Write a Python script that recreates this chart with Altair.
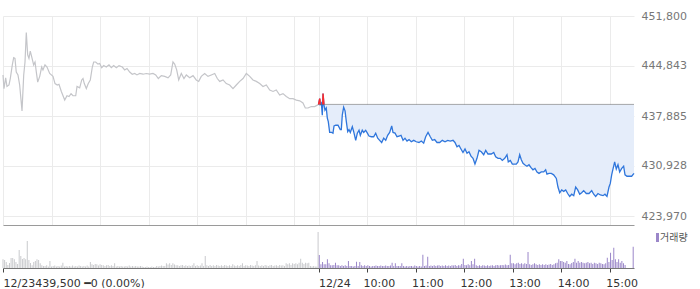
import altair as alt
import pandas as pd

# ---------------- data ----------------
PREV_CLOSE = 439500

# previous day (12/23) price line : minute index (0 = 12/23 09:00) and price
prev_minute = [
    0, 1.2, 3.3, 4.9, 7.4, 9.0, 11.5, 13.2, 14.8, 16.4,
    18.5, 20.6, 23.5, 25.6, 27.2, 28.8, 30.5, 32.1, 33.7, 35.5,
    37.9, 39.6, 41.2, 42.9, 45.4, 47.8, 49.4, 51.9, 54.4, 57.7,
    61.8, 64.3, 67.1, 69.2, 72.1, 76.3, 79.1, 81.6, 84.1, 86.5,
    89.9, 91.5, 94.8, 97.3, 98.9, 100.5, 103.0, 105.4, 107.9, 110.4,
    112.1, 114.6, 117.4, 119.5, 122.0, 124.5, 127.7, 131.0, 133.9, 136.8,
    140.1, 143.4, 147.5, 150.4, 153.3, 156.6, 159.8, 162.8, 165.6, 169.0,
    173.1, 177.1, 181.3, 185.4, 188.8, 192.0, 195.7, 199.9, 204.0, 207.3,
    210.1, 212.2, 214.7, 217.2, 220.4, 223.7, 226.6, 230.8, 234.9, 238.9,
    241.9, 245.1, 249.3, 253.4, 257.5, 261.7, 264.9, 267.9, 272.0, 276.0,
    280.2, 284.3, 288.4, 292.6, 296.7, 300.8, 305.0, 309.0, 313.1, 317.3,
    321.4, 325.5, 329.7, 333.8, 337.8, 342.0, 346.1, 350.2, 354.4, 358.5,
    362.6, 366.8, 370.8, 373.7, 377.0, 381.1, 385.3, 388.5, 390,
]
prev_price = [
    443600, 441700, 443200, 442000, 442200, 443100, 445000, 446000, 445900, 444000,
    443600, 442200, 438600, 443600, 445400, 449500, 446400, 445900, 446900, 446100,
    445000, 445400, 444000, 442600, 443400, 444700, 444300, 445000, 444700, 443800,
    443400, 442400, 442200, 442300, 441300, 440100, 440700, 440600, 441000, 440700,
    440700, 442000, 441800, 442900, 443100, 442400, 441700, 442400, 442900, 444700,
    445400, 445400, 445100, 445200, 444600, 444900, 444700, 445000, 444600, 444900,
    444600, 444900, 444700, 444300, 444500, 444000, 443700, 443800, 443600, 443800,
    443700, 443800, 443700, 443800, 443600, 443100, 443500, 443400, 443200, 443600,
    445400, 445100, 444300, 442900, 443800, 443100, 443600, 443200, 443500, 442900,
    442700, 443400, 443800, 443400, 443600, 443800, 443100, 442700, 442900, 442400,
    442200, 441700, 442200, 442700, 443100, 443800, 443400, 442900, 442700, 442400,
    442000, 442200, 441500, 441300, 441500, 440800, 441000, 440600, 440300, 440300,
    440100, 440000, 439700, 439000, 439000, 439200, 439200, 439400, 439500,
]

# today (12/24) price line : minute index (390 = 12/24 09:00)
today_minute = [
    390, 391.5, 392.2, 393.5, 394.7, 395.6, 396.8, 398.0, 399.6, 400.9,
    402.1, 403.8, 406.3, 407.9, 409.2, 411.3, 414.1, 416.9, 418.2, 419.4,
    421.1, 422.8, 424.4, 426.1, 427.7, 429.3, 431.8, 433.5, 436.0, 438.0,
    440.1, 441.7, 444.1, 445.9, 448.3, 449.9, 452.4, 455.3, 458.2, 460.7,
    463.2, 465.6, 468.1, 470.6, 473.1, 475.5, 478.0, 480.5, 482.1, 484.6,
    487.0, 489.5, 492.0, 494.5, 496.9, 499.4, 501.9, 504.7, 507.7, 510.9,
    514.2, 517.1, 520.0, 522.5, 525.4, 528.2, 530.7, 533.6, 536.5, 539.8,
    543.0, 546.4, 549.7, 552.9, 556.3, 558.7, 561.2, 563.7, 566.1, 568.6,
    571.1, 573.6, 576.0, 578.5, 581.0, 583.4, 585.9, 588.4, 591.2, 594.2,
    596.7, 599.5, 603.6, 606.6, 609.0, 611.9, 614.7, 617.2, 620.2, 623.0,
    624.6, 627.1, 629.6, 632.0, 634.5, 636.6, 638.7, 640.7, 642.8, 644.9,
    647.7, 650.2, 652.7, 655.1, 657.6, 660.1, 662.6, 665.4, 668.4, 670.8,
    672.4, 674.9, 677.8, 680.7, 684.0, 686.0, 688.2, 690.6, 693.1, 695.6,
    698.0, 700.5, 703.0, 705.5, 707.9, 710.4, 712.9, 715.3, 717.8, 721.0,
    724.4, 727.7, 730.2, 732.6, 735.5, 738.4, 741.7, 744.1, 746.6, 749.1,
    750.7, 752.4, 754.0, 756.1, 758.1, 760.2, 762.3, 764.8, 767.2, 768.9,
    771.3, 774.7, 777.1, 780,
]
today_price = [
    439500, 440300, 439500, 439700, 438000, 441000, 439400, 438700, 439000, 437600,
    437100, 435600, 435600, 435500, 436500, 436600, 436600, 436000, 436000, 438000,
    439100, 438600, 437100, 435700, 436000, 435600, 436400, 435700, 434500, 435500,
    435900, 435200, 435900, 435600, 435900, 435600, 435100, 435000, 435000, 435500,
    434800, 434500, 434200, 434800, 434500, 435200, 435600, 436500, 435600, 435500,
    435000, 435100, 435200, 434500, 434800, 434400, 434600, 434300, 434500, 434300,
    434200, 434400, 434100, 435000, 435600, 435000, 434500, 434600, 434200, 434200,
    434500, 434300, 434500, 434400, 434500, 434200, 433600, 433800, 433300, 432800,
    433300, 432700, 432900, 432300, 432000, 431200, 432000, 433100, 432900, 432500,
    433100, 432600, 432600, 432800, 432200, 432000, 432000, 431700, 432000, 432500,
    431500, 431700, 431200, 431200, 431200, 431500, 432500, 431800, 431300, 431100,
    430900, 431100, 430700, 430400, 430600, 430100, 429900, 430100, 430100, 430400,
    429800, 429900, 429900, 429700, 429200, 428000, 427200, 427600, 427400, 427600,
    427100, 426700, 427000, 426800, 428000, 427600, 427000, 427200, 427500, 427100,
    427100, 427500, 427000, 426700, 427100, 426900, 426800, 427000, 426700, 428000,
    428500, 429700, 430500, 431500, 430500, 431100, 430100, 430600, 430900, 429700,
    429500, 429500, 429500, 429900,
]

# parts of today's line above the previous close (drawn red)
red_seg = ["a", "a", "a", "b", "b", "b"]
red_minute = [390, 391.5, 392.2, 395.2, 395.6, 396.7]
red_price = [439500, 440300, 439500, 439500, 441000, 439500]

# volume (x1000 shares), 2-minute buckets
prev_vol_minute = list(range(0, 390, 2))
prev_vol = [
    8.7, 8, 6, 3, 5, 10, 10, 8.7, 6, 4,
    18, 12, 9, 10, 8.7, 27, 8, 5, 2.7, 6,
    7, 8.7, 8, 4.7, 2.7, 2, 2, 2.7, 1.5, 7,
    1.5, 2, 2.5, 1.5, 2, 1.5, 2.5, 5.3, 1.5, 2,
    1.5, 2, 1.5, 2.5, 1.5, 2, 1.5, 2.5, 2, 1.5,
    2, 1.5, 2.5, 1.5, 6, 3.7, 3, 4, 3.7, 2.5,
    3.7, 3, 2.7, 2, 2.7, 3, 2, 2.7, 2, 4.7,
    1.5, 2, 1.5, 2, 1.5, 1.5, 2, 1.5, 2.5, 1.5,
    2, 1.5, 2, 1.5, 1.5, 2, 1.5, 1, 1, 1.5,
    1, 1, 1.5, 1, 1, 2, 1.5, 2, 2.5, 2,
    2, 4.7, 3.5, 4.7, 3, 4.7, 3.5, 2.7, 2.7, 2,
    2.7, 3, 2, 2.7, 2, 2.5, 2, 2.7, 4.7, 2,
    2.7, 2, 2.5, 4.7, 2, 12, 2.7, 2, 3, 2,
    2.7, 2, 3, 2.5, 2, 2.7, 2, 3, 2.5, 2,
    2.7, 2, 3.7, 2.5, 2, 2.7, 2, 3, 4.7, 2,
    2.7, 2.5, 2, 3, 2.5, 2, 2.7, 7, 2.5, 2,
    2.7, 2, 3, 2.5, 2, 2.7, 3, 2, 2.5, 2.7,
    2, 3, 2.5, 2.7, 2, 4.7, 3.7, 4.7, 3, 4.7,
    4, 4.7, 3.7, 5.3, 9.3, 5.3, 4, 5.3, 4.7, 5.3,
    2, 1.5, 2, 1.5, 1.5,
]
prev_close_auction = (389.5, 36)

today_vol_minute = list(range(391, 771, 2))
today_vol = [
    13, 3.7, 6, 3.7, 3.7, 8.7, 4.7, 2.7, 2.7, 3,
    5.3, 2.7, 2.7, 2, 2.7, 2, 2.7, 2, 7, 2,
    2, 1.5, 2, 6.3, 2, 6, 2.7, 2, 2.7, 2,
    2.7, 2, 1.5, 2, 2, 2.5, 2, 2, 2.5, 2,
    2, 2.5, 2, 2, 2.5, 5.3, 2, 4.7, 2, 2,
    2, 4.7, 2, 1.5, 2, 1.5, 2, 2, 1.5, 2.5,
    2, 1.5, 2, 1.5, 13.3, 2, 2.5, 11.3, 2, 2.5,
    2, 2.7, 2, 2.5, 2.7, 2, 2.5, 2, 2.7, 2,
    2.5, 2, 2.7, 2.5, 3, 2, 2.7, 2.5, 4, 9.3,
    3, 2.7, 3.7, 2.7, 7, 3.7, 9.3, 2.7, 2, 2.7,
    2, 2.7, 2.5, 2, 2.7, 2, 2.5, 2.7, 2, 2.7,
    3, 2.5, 2.7, 3, 2.7, 3.5, 2.7, 3, 13.3, 4.7,
    4.7, 3.7, 4.7, 5.3, 4, 4.7, 3.7, 4.7, 4, 16,
    3.7, 3, 3.7, 4.7, 3.7, 3, 3.7, 3, 3.7, 3,
    3.7, 3, 3.5, 4, 3, 3.7, 4.7, 5.3, 8.7, 7,
    7, 6, 5.3, 7, 4, 3.7, 5, 6, 9.3, 5.3,
    7, 5.3, 6, 5.3, 4.7, 5.3, 6, 4.7, 5.3, 4,
    5.3, 4.7, 4, 5.3, 4.7, 4, 3.7, 4.7, 10.3, 6,
    15.3, 8, 20.3, 8.7, 6, 8.7, 5.3, 7, 4.7, 3,
]
today_close_auction = (779, 21.3)

days = ["12/23", "12/24"]

# axis ticks
grid_minutes = [0, 60, 120, 180, 240, 300, 360, 390, 450, 510, 570, 630, 690, 750]
price_ticks = [423970, 430928, 437885, 444843, 451800]
x_tick_values = [0, 390, 450, 510, 570, 630, 690, 750]
x_tick_labels = ["12/23439,500 ━0 (0.00%)", "12/24", "10:00", "11:00", "12:00",
                 "13:00", "14:00", "15:00"]
legend_label = "거래량"

# ---------------- frames ----------------
prev_df = pd.DataFrame({"minute": prev_minute, "price": prev_price})
today_df = pd.DataFrame({"minute": today_minute, "price": today_price})
today_df["close"] = PREV_CLOSE
red_df = pd.DataFrame({"seg": red_seg, "minute": red_minute, "price": red_price})
close_df = pd.DataFrame({"start": [390], "end": [780], "close": [PREV_CLOSE]})

vol_df = pd.concat([
    pd.DataFrame({"minute": prev_vol_minute + [prev_close_auction[0]],
                  "vol": prev_vol + [prev_close_auction[1]], "day": days[0]}),
    pd.DataFrame({"minute": today_vol_minute + [today_close_auction[0]],
                  "vol": today_vol + [today_close_auction[1]], "day": days[1]}),
], ignore_index=True)

# ---------------- chart ----------------
GRID = "#ebebeb"
x_scale = alt.Scale(domain=[0, 780], nice=False, zero=False, padding=0)

x_top = alt.X("minute:Q", scale=x_scale,
              axis=alt.Axis(values=grid_minutes, labels=False, ticks=False,
                            domain=True, domainColor="#9a9a9a", grid=True,
                            gridColor=GRID, title=None))
y_top = alt.Y("price:Q",
              scale=alt.Scale(domain=[422718, 451800], nice=False, zero=False),
              axis=alt.Axis(orient="right", values=price_ticks, format=",d",
                            labelColor="#777777", labelFont="DejaVu Sans",
                            labelFontSize=11, labelPadding=7, ticks=False,
                            domain=False, grid=True, gridColor=GRID, title=None))

area = alt.Chart(today_df).mark_area(color="#e5edfa", opacity=1).encode(
    x=x_top, y=y_top, y2="close:Q")
prev_line = alt.Chart(prev_df).mark_line(color="#c4c5c9", strokeWidth=1.2).encode(
    x="minute:Q", y="price:Q")
today_line = alt.Chart(today_df).mark_line(color="#2f76dc", strokeWidth=1.3).encode(
    x="minute:Q", y="price:Q")
red_line = alt.Chart(red_df).mark_line(color="#ff2a2a", strokeWidth=1.4).encode(
    x="minute:Q", y="price:Q", detail="seg:N")
close_rule = alt.Chart(close_df).mark_rule(color="#555555", strokeDash=[1, 1],
                                           strokeWidth=1).encode(
    x="start:Q", x2="end:Q", y="close:Q")

top = alt.layer(area, prev_line, today_line, close_rule, red_line).properties(
    width=631, height=209)

label_expr = ""
for v, l in zip(x_tick_values, x_tick_labels):
    label_expr += f"datum.value == {v} ? '{l}' : "
label_expr += "''"

bars = alt.Chart(vol_df).mark_bar(size=1).encode(
    x=alt.X("minute:Q", scale=x_scale,
            axis=alt.Axis(values=x_tick_values, labelExpr=label_expr,
                          labelAlign="left",
                          labelOffset={"condition": {"test": "datum.value <= 390",
                                                     "value": 0},
                                       "value": -4},
                          labelFlush=False, labelOverlap=False,
                          labelFont="DejaVu Sans", labelFontSize=11,
                          labelColor="#333333", labelPadding=5,
                          tickSize=4, tickColor="#444444", domainColor="#777777",
                          grid=False, title=None)),
    y=alt.Y("vol:Q", scale=alt.Scale(domain=[0, 43], nice=False), axis=None),
    color=alt.Color("day:N", scale=alt.Scale(domain=days,
                                             range=["#c9cacd", "#9b87c9"]),
                    legend=None),
)

swatch = alt.Chart(pd.DataFrame({"label": [legend_label]})).mark_rect(
    color="#9b87c9").encode(x=alt.value(653), x2=alt.value(656),
                            y=alt.value(8), y2=alt.value(17))
legend_text = alt.Chart(pd.DataFrame({"label": [legend_label]})).mark_text(
    align="left", baseline="middle", font="Noto Sans CJK KR", fontSize=10,
    color="#555555").encode(x=alt.value(657), y=alt.value(12.5), text="label:N")

bottom = alt.layer(bars, swatch, legend_text).properties(width=631, height=43)

chart = alt.vconcat(top, bottom, spacing=0, bounds="flush").properties(
    padding={"left": 0, "top": 10, "right": 0, "bottom": 0}
).configure_view(strokeWidth=0)

chart.save("out.html", embed_options={"renderer": "svg", "actions": False})
